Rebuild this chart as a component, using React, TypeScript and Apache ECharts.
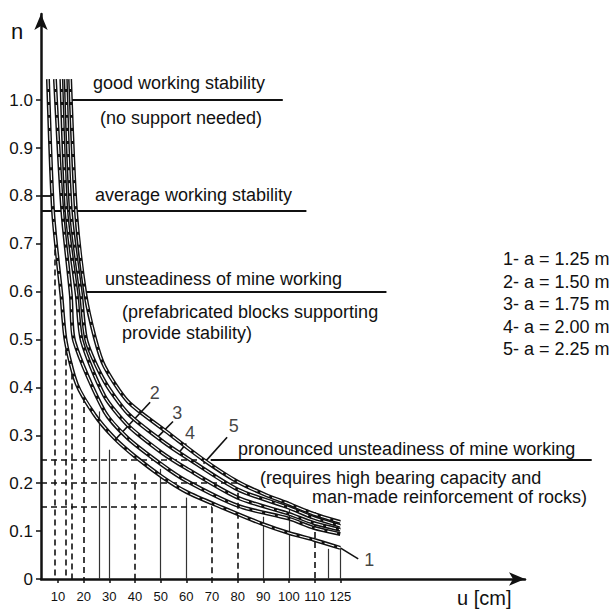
import { useEffect, useRef } from "react";
import * as echarts from "echarts";

// x axis tick values (cm); the drawing spaces them evenly
const U_TICKS = [10, 20, 30, 40, 50, 60, 70, 80, 90, 100, 110, 125];
const N_TICKS = [0, 0.1, 0.2, 0.3, 0.4, 0.5, 0.6, 0.7, 0.8, 0.9, 1.0];

// curves [u (cm), n]
const CURVE_1 = [[4.1, 1.044], [7.1, 0.767], [11.3, 0.593], [13.0, 0.497], [17.3, 0.407], [24.4, 0.342], [32.0, 0.294], [40.0, 0.256], [50.4, 0.214], [60.0, 0.182], [74.1, 0.149], [89.6, 0.115], [100, 0.096], [109.6, 0.082], [125, 0.065]];
const CURVE_2 = [[8.2, 1.044], [11.7, 0.767], [15.0, 0.593], [16.3, 0.497], [28.1, 0.35], [37.2, 0.294], [50.4, 0.239], [60, 0.205], [80, 0.153], [100, 0.126], [109.6, 0.107], [125, 0.094]];
const CURVE_3 = [[11.3, 1.044], [13.3, 0.767], [17.3, 0.593], [19.3, 0.497], [28.1, 0.382], [37.2, 0.321], [50.4, 0.264], [60, 0.231], [80, 0.17], [100, 0.136], [109.6, 0.117], [125, 0.103]];
const CURVE_4 = [[13.0, 1.044], [15.0, 0.767], [19.0, 0.593], [21.1, 0.497], [28.1, 0.413], [37.2, 0.346], [50.4, 0.289], [60, 0.254], [80, 0.187], [100, 0.149], [109.6, 0.128], [125, 0.111]];
const CURVE_5 = [[14.7, 1.044], [17.0, 0.767], [20.7, 0.593], [24.4, 0.503], [28.1, 0.444], [37.2, 0.371], [52.2, 0.308], [66.7, 0.249], [80, 0.203], [90.8, 0.176], [100, 0.157], [109.6, 0.136], [125, 0.119]];
const CURVES = [CURVE_1, CURVE_2, CURVE_3, CURVE_4, CURVE_5];

const A_VALUES = [1.25, 1.5, 1.75, 2.0, 2.25];

// zone boundary lines: [n, uFrom, uTo]
const ZONE_LINES = [[1.0, 14.7, 97.6], [0.8, 0, 7], [0.77, 0, 106.8], [0.6, 20.7, 152], [0.25, 69.5, 272]];
// dashed reading levels: [n, uFrom, uTo]
const LEVEL_LINES = [[0.25, 0, 69.5], [0.2, 0, 80], [0.15, 0, 70]];
// drop lines: [u, nTop, dashed]
const DROP_LINES = [[8, 0.73, 1], [13, 0.5, 1], [15.5, 0.45, 1], [20, 0.38, 1], [26, 0.35, 0], [30, 0.27, 0], [40, 0.22, 1], [50, 0.23, 0], [60, 0.17, 0], [70, 0.15, 1], [80, 0.18, 1], [90, 0.13, 0], [100, 0.155, 0], [110, 0.14, 1], [118, 0.063, 0], [125, 0.063, 0]];
// curve number labels: [text, u, n] and leaders [uFrom, nFrom, uTo, nTo]
const CURVE_LABELS = [["1", 142, 0.04], ["2", 47.7, 0.388], ["3", 56.5, 0.346], ["4", 61.4, 0.304], ["5", 78.5, 0.319]];
const LEADERS = [[125, 0.065, 135.5, 0.042], [45.9, 0.369, 32.8, 0.294], [54.8, 0.329, 49.1, 0.298], [60, 0.283, 57.4, 0.266], [75.9, 0.296, 66.7, 0.241]];

const ORIGIN = -0.664; // axis position of u = 0

function uPos(u: number): number {
  if (u <= U_TICKS[0]) return ORIGIN * (1 - u / U_TICKS[0]);
  for (let i = 1; i < U_TICKS.length; i++) {
    if (u <= U_TICKS[i]) return i - 1 + (u - U_TICKS[i - 1]) / (U_TICKS[i] - U_TICKS[i - 1]);
  }
  const last = U_TICKS.length - 1;
  return last + (u - U_TICKS[last]) / (U_TICKS[last] - U_TICKS[last - 1]);
}

const FONT = "'Liberation Sans', Arial, sans-serif";

function txt(text: string, x: number, y: number, size = 18) {
  return {
    type: "text",
    x,
    y,
    silent: true,
    style: { text, fill: "#111", fontSize: size, fontFamily: FONT, align: "left", verticalAlign: "middle" },
  };
}

export default function App() {
  const ref = useRef<HTMLDivElement>(null);
  useEffect(() => {
    if (!ref.current) return;
    const chart = echarts.init(ref.current, null, { renderer: "svg" });
    const tickPos = U_TICKS.map((_, i) => i);

    const curveSeries: any[] = [];
    CURVES.forEach((c, i) => {
      const data = c.map(([u, n]) => [uPos(u), n]);
      curveSeries.push({
        type: "line",
        name: "curve " + (i + 1),
        data,
        showSymbol: false,
        smooth: 0.25,
        clip: false,
        lineStyle: { color: "#111", width: 4 },
        z: 5,
      });
      curveSeries.push({
        type: "line",
        name: "curve " + (i + 1) + " core",
        data,
        showSymbol: false,
        smooth: 0.25,
        clip: false,
        silent: true,
        lineStyle: { color: "#fff", width: 1.1, type: [10, 3] },
        z: 6,
      });
    });

    const solidSegs: any[] = [];
    const dashedSegs: any[] = [];
    ZONE_LINES.forEach(([n, a, b]) => solidSegs.push({ coords: [[uPos(a), n], [uPos(b), n]], lineStyle: { width: 1.8 } }));
    LEVEL_LINES.forEach(([n, a, b]) => dashedSegs.push({ coords: [[uPos(a), n], [uPos(b), n]] }));
    DROP_LINES.forEach(([u, top, d]) => {
      const seg = { coords: [[uPos(u), top], [uPos(u), 0]] };
      if (d) dashedSegs.push(seg);
      else solidSegs.push({ ...seg, lineStyle: { width: 1.2, color: "#333" } });
    });
    LEADERS.forEach(([a, b, c, d]) => solidSegs.push({ coords: [[uPos(a), b], [uPos(c), d]], lineStyle: { width: 1.6 } }));

    const graphics: any[] = [
      txt("n", 11, 31, 22),
      txt("u [cm]", 457, 598, 20),
      txt("good working stability", 93, 83),
      txt("(no support needed)", 100, 118),
      txt("average working stability", 95, 195),
      txt("unsteadiness of mine working", 105, 279),
      txt("(prefabricated blocks supporting", 122, 312),
      txt("provide stability)", 122, 333),
      txt("pronounced unsteadiness of mine working", 238, 449),
      txt("(requires high bearing capacity and", 260, 478),
      txt("man-made reinforcement of rocks)", 312, 497),
      ...A_VALUES.map((a, i) => txt(`${i + 1}- a = ${a.toFixed(2)} m`, 503, 259 + 22.5 * i)),
    ];

    chart.setOption({
      animation: false,
      backgroundColor: "#fff",
      grid: { left: 41, right: 89, top: 14, bottom: 32 },
      xAxis: {
        type: "value",
        min: ORIGIN,
        max: 18.2,
        axisLine: { onZero: false, symbol: ["none", "arrow"], symbolSize: [10, 16], lineStyle: { color: "#111", width: 2.5 } },
        axisTick: { show: true, customValues: tickPos, length: 4, lineStyle: { color: "#111", width: 1.5 } },
        axisLabel: {
          customValues: tickPos,
          formatter: (v: number) => String(U_TICKS[Math.round(v)]),
          color: "#111",
          fontSize: 13,
          fontFamily: FONT,
          margin: 11,
        },
        splitLine: { show: false },
      },
      yAxis: {
        type: "value",
        min: 0,
        max: 1.18,
        axisLine: { show: true, onZero: false, symbol: ["none", "arrow"], symbolSize: [10, 16], lineStyle: { color: "#111", width: 2.5 } },
        axisTick: { show: true, customValues: N_TICKS, length: 5, lineStyle: { color: "#111", width: 1.5 } },
        axisLabel: {
          customValues: N_TICKS,
          formatter: (v: number) => (v === 0 ? "0" : v.toFixed(1)),
          color: "#111",
          fontSize: 17,
          fontFamily: FONT,
          margin: 8,
        },
        splitLine: { show: false },
      },
      series: [
        {
          type: "lines",
          coordinateSystem: "cartesian2d",
          polyline: false,
          clip: false,
          silent: true,
          lineStyle: { color: "#111", width: 1.5, type: "solid", opacity: 1 },
          data: solidSegs,
          z: 3,
        },
        {
          type: "lines",
          coordinateSystem: "cartesian2d",
          polyline: false,
          clip: false,
          silent: true,
          lineStyle: { color: "#111", width: 1.6, type: [6, 4], opacity: 1 },
          data: dashedSegs,
          z: 3,
        },
        ...curveSeries,
        {
          type: "scatter",
          name: "curve labels",
          symbolSize: 1,
          itemStyle: { color: "transparent" },
          clip: false,
          data: CURVE_LABELS.map(([t, u, n]) => ({ name: t as string, value: [uPos(u as number), n] })),
          label: { show: true, position: "inside", formatter: (p: any) => p.name, color: "#111", fontSize: 18, fontFamily: FONT },
          z: 7,
        },
      ],
      graphic: graphics,
    });
    return () => chart.dispose();
  }, []);
  return <div ref={ref} style={{ position: "fixed", left: 0, top: 0, width: 614, height: 611, background: "#fff" }} />;
}
